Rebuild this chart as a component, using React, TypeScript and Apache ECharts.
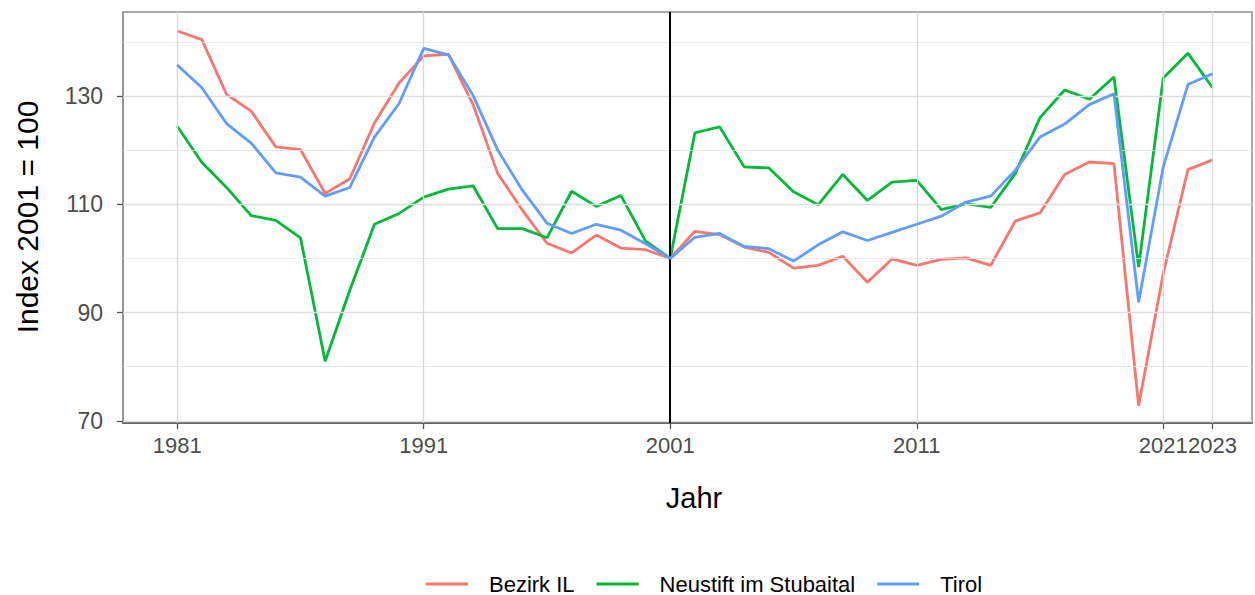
import React, { useEffect, useRef } from "react";
import * as echarts from "echarts";

const years = [
  1981, 1982, 1983, 1984, 1985, 1986, 1987, 1988, 1989, 1990,
  1991, 1992, 1993, 1994, 1995, 1996, 1997, 1998, 1999, 2000,
  2001, 2002, 2003, 2004, 2005, 2006, 2007, 2008, 2009, 2010,
  2011, 2012, 2013, 2014, 2015, 2016, 2017, 2018, 2019, 2020,
  2021, 2022, 2023,
];

const bezirkIL = [
  142.0, 140.4, 130.3, 127.2, 120.6, 120.1, 112.0, 114.7, 125.0, 132.4,
  137.4, 137.7, 128.4, 115.7, 108.9, 102.8, 101.0, 104.3, 101.9, 101.6,
  100.0, 105.0, 104.4, 102.1, 101.1, 98.2, 98.7, 100.4, 95.6, 99.9,
  98.7, 99.8, 100.1, 98.7, 106.9, 108.4, 115.5, 117.8, 117.5, 72.8,
  97.2, 116.4, 118.2,
];

const neustift = [
  124.4, 117.7, 113.1, 107.9, 107.0, 103.8, 81.0, 94.1, 106.3, 108.3,
  111.3, 112.8, 113.4, 105.5, 105.5, 103.8, 112.4, 109.6, 111.6, 103.2,
  100.0, 123.2, 124.3, 116.9, 116.7, 112.3, 109.9, 115.5, 110.7, 114.1,
  114.4, 109.0, 110.1, 109.4, 115.7, 126.0, 131.1, 129.4, 133.5, 98.4,
  133.3, 137.9, 131.5,
];

const tirol = [
  135.7, 131.5, 124.9, 121.3, 115.8, 115.0, 111.5, 113.1, 122.4, 128.6,
  138.8, 137.6, 130.1, 120.0, 112.6, 106.5, 104.6, 106.3, 105.2, 102.7,
  100.0, 103.9, 104.6, 102.2, 101.8, 99.5, 102.5, 104.9, 103.3, 104.8,
  106.3, 107.8, 110.4, 111.5, 116.3, 122.4, 124.8, 128.4, 130.4, 91.9,
  116.9, 132.1, 134.1,
];

const xBreaks = [1981, 1991, 2001, 2011, 2021, 2023];
const yBreaks = [70, 90, 110, 130];
const yMinor = [80, 100, 120, 140];
const refYear = 2001;

const seriesNames = ["Bezirk IL", "Neustift im Stubaital", "Tirol"];
const seriesColors = ["#F8766D", "#00BA38", "#619CFF"];

const FONT = "'Liberation Sans', Arial, sans-serif";

export default function App() {
  const ref = useRef<HTMLDivElement>(null);

  useEffect(() => {
    document.body.style.margin = "0";
    if (!ref.current) return;
    const chart = echarts.init(ref.current, null, { renderer: "svg" });

    const pair = (vals: number[]) => years.map((y, i) => [y, vals[i]]);
    const allData = [bezirkIL, neustift, tirol];

    const gridLines: any[] = [
      ...yBreaks.map((v) => ({ yAxis: v, lineStyle: { color: "#dedede", width: 1.3, type: "solid" } })),
      ...yMinor.map((v) => ({ yAxis: v, lineStyle: { color: "#e4e4e4", width: 0.8, type: "solid" } })),
      ...xBreaks.map((v) => ({ xAxis: v, lineStyle: { color: "#d9d9d9", width: 1.3, type: "solid" } })),
    ];

    chart.setOption({
      animation: false,
      textStyle: { fontFamily: FONT },
      grid: {
        left: 123,
        right: 3,
        top: 12,
        bottom: 172,
        show: true,
        borderColor: "#8f8f8f",
        borderWidth: 1.5,
        backgroundColor: "#ffffff",
      },
      xAxis: {
        type: "value",
        min: 1978.8,
        max: 2024.6,
        splitLine: { show: false },
        axisLine: { show: true, onZero: false, lineStyle: { color: "#666666", width: 2 } },
        axisTick: {
          show: true,
          customValues: xBreaks,
          length: 6,
          lineStyle: { color: "#555555", width: 1.3 },
        },
        axisLabel: {
          customValues: xBreaks,
          formatter: (v: number) => String(v),
          color: "#4d4d4d",
          fontSize: 22,
          fontFamily: FONT,
          margin: 11,
          hideOverlap: false,
        },
      },
      yAxis: {
        type: "value",
        min: 69.6,
        max: 145.5,
        splitLine: { show: false },
        axisLine: { show: true, lineStyle: { color: "#8f8f8f", width: 1.5 } },
        axisTick: {
          show: true,
          customValues: yBreaks,
          length: 6,
          lineStyle: { color: "#555555", width: 1.3 },
        },
        axisLabel: {
          customValues: yBreaks,
          formatter: (v: number) => String(v),
          color: "#4d4d4d",
          fontSize: 23,
          fontFamily: FONT,
          margin: 20,
        },
      },
      legend: {
        data: seriesNames,
        left: 421,
        top: 568,
        icon: "rect",
        itemWidth: 42,
        itemHeight: 3,
        itemGap: 22,
        formatter: (name: string) => `{g|}{t|${name}}`,
        textStyle: {
          fontSize: 22,
          color: "#000000",
          fontFamily: FONT,
          rich: {
            g: { width: 16, fontSize: 22 },
            t: { fontSize: 22, color: "#000000", fontFamily: FONT },
          },
        },
      },
      graphic: [
        {
          type: "text",
          x: 27,
          y: 217,
          rotation: Math.PI / 2,
          style: {
            text: "Index 2001 = 100",
            fontSize: 30,
            fontFamily: FONT,
            fill: "#000000",
            textAlign: "center",
            textVerticalAlign: "middle",
          },
        },
        {
          type: "text",
          x: 694,
          y: 498,
          style: {
            text: "Jahr",
            fontSize: 29,
            fontFamily: FONT,
            fill: "#000000",
            textAlign: "center",
            textVerticalAlign: "middle",
          },
        },
      ],
      series: [
        {
          type: "line",
          name: "__grid",
          data: [],
          silent: true,
          z: 1,
          markLine: {
            silent: true,
            symbol: ["none", "none"],
            label: { show: false },
            animation: false,
            data: gridLines,
          },
        },
        {
          type: "line",
          name: "__ref",
          data: [],
          silent: true,
          z: 2,
          markLine: {
            silent: true,
            symbol: ["none", "none"],
            label: { show: false },
            animation: false,
            data: [{ xAxis: refYear, lineStyle: { color: "#000000", width: 2, type: "solid" } }],
          },
        },
        ...seriesNames.map((name, i) => ({
          type: "line",
          name,
          data: pair(allData[i]),
          showSymbol: false,
          symbol: "none",
          z: 3 + i,
          itemStyle: { color: seriesColors[i] },
          lineStyle: { color: seriesColors[i], width: 2.8 },
        })),
      ],
    });

    return () => chart.dispose();
  }, []);

  return <div ref={ref} style={{ width: 1255, height: 595 }} />;
}
